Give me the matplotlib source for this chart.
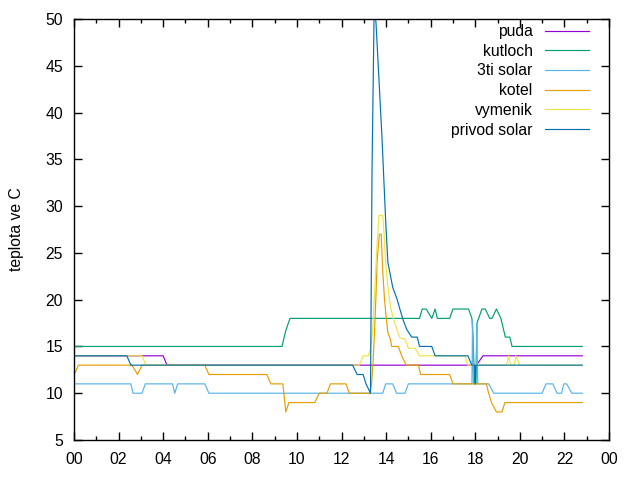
import matplotlib
matplotlib.use("Agg")
import matplotlib.pyplot as plt
from matplotlib.ticker import FixedLocator, MultipleLocator

# ---- data (hours of day, degrees C) ----
puda_t = [0.0, 4.0, 4.17, 18.05, 18.35, 22.8]
puda_v = [14, 14, 13, 13, 14, 14]

kutloch_t = [0.0, 9.33, 9.5, 9.69, 15.5, 15.62, 15.8, 16.05, 16.2, 16.3, 16.85, 17.0,
             17.7, 17.85, 17.9, 17.97, 18.03, 18.08, 18.15, 18.3, 18.45, 18.65, 18.75,
             18.95, 19.15, 19.25, 19.35, 19.55, 19.65, 22.8]
kutloch_v = [15, 15, 16.7, 18, 18, 19, 19, 18, 19, 18, 18, 19,
             19, 18, 16, 11, 11, 17.5, 18, 19, 19, 18, 18,
             19, 18, 17, 16, 16, 15, 15]

solar3_t = [0.0, 2.55, 2.65, 3.05, 3.2, 4.42, 4.52, 4.65, 5.87, 6.05, 13.85, 13.98,
            14.3, 14.47, 14.85, 15.0, 17.85, 17.88, 17.92, 18.03, 18.07, 18.11, 18.6,
            18.83, 21.0, 21.17, 21.48, 21.67, 21.87, 21.97, 22.1, 22.33, 22.8]
solar3_v = [11, 11, 10, 10, 11, 11, 10, 11, 11, 10, 10, 11,
            11, 10, 10, 11, 11, 17.8, 11, 11, 17.5, 11, 11,
            10, 10, 11, 11, 10, 10, 11, 11, 10, 10]

kotel_t = [0.05, 0.2, 2.6, 2.85, 3.05, 5.87, 6.05, 8.65, 8.83, 9.37, 9.5, 9.64, 10.8,
           11.0, 11.35, 11.5, 12.2, 12.35, 13.27, 13.35, 13.42, 13.48, 13.55, 13.6,
           13.7, 13.78, 13.85, 13.93, 14.0, 14.08, 14.2, 14.25, 14.55, 14.7, 14.9,
           15.45, 15.55, 16.85, 17.0, 18.5, 18.6, 18.73, 18.95, 19.2, 19.33, 22.8]
kotel_v = [12.2, 13, 13, 12, 13, 13, 12, 12, 11, 11, 8, 9, 9,
           10, 10, 11, 11, 10, 10, 11, 13.5, 16.4, 20.7, 24.2,
           27, 27, 23, 20, 18.2, 16.5, 15.7, 15, 15, 14, 13,
           13, 12, 12, 11, 11, 10, 9, 8, 8, 9, 9]

vymenik_t = [0.0, 3.05, 3.23, 12.8, 12.97, 13.2, 13.3, 13.4, 13.58, 13.68, 13.85,
             13.9, 13.98, 14.06, 14.12, 14.2, 14.35, 14.5, 14.63, 14.85, 15.0, 15.3,
             15.5, 17.53, 17.67, 19.4, 19.5, 19.58, 19.75, 19.82, 20.0, 22.8]
vymenik_v = [14, 14, 13, 13, 14, 14, 14.8, 16.7, 25.3, 29, 29,
             27.4, 24, 21.8, 20.7, 19.2, 17.8, 16.7, 15.9, 15.8, 14.8, 14.8,
             14, 14, 13, 13, 14, 13, 13, 14, 13, 13]

privod_t = [0.0, 2.37, 2.55, 12.5, 12.7, 12.97, 13.1, 13.3, 13.37, 13.47, 13.55,
            13.81, 13.99, 14.08, 14.3, 14.5, 14.63, 14.77, 14.93, 15.15, 15.4, 15.5,
            16.05, 16.2, 17.67, 17.85, 17.97, 18.0, 18.03, 22.8]
privod_v = [14, 14, 13, 13, 12, 12, 11, 10, 34, 52, 49.5,
            37.6, 28, 24, 21.3, 20, 18.9, 17.8, 16.8, 16, 16, 15,
            15, 14, 14, 13, 13, 11, 13, 13]

series = [
    ("puda", puda_t, puda_v, "#9400d3"),
    ("kutloch", kutloch_t, kutloch_v, "#009e73"),
    ("3ti solar", solar3_t, solar3_v, "#56b4e9"),
    ("kotel", kotel_t, kotel_v, "#e69f00"),
    ("vymenik", vymenik_t, vymenik_v, "#f0e442"),
    ("privod solar", privod_t, privod_v, "#0072b2"),
]

x_major = list(range(0, 25, 2))
x_labels = ["%02d" % (h % 24) for h in x_major]
y_ticks = list(range(5, 51, 5))

plt.rcParams['font.family'] = ['Liberation Sans', 'DejaVu Sans']
plt.rcParams['font.size'] = 11.3

fig = plt.figure(figsize=(6.4, 4.8), dpi=100)
ax = fig.add_axes([74/640, 1-440/480, (609-74)/640, (440-19)/480])

for name, t, v, c in series:
    ax.plot(t, v, color=c, lw=0.85, label=name)

ax.set_xlim(0, 24)
ax.set_ylim(5, 50)
ax.xaxis.set_major_locator(FixedLocator(x_major))
ax.set_xticklabels(x_labels)
ax.xaxis.set_minor_locator(MultipleLocator(1))
ax.yaxis.set_major_locator(FixedLocator(y_ticks))
ax.tick_params(which='major', direction='in', length=6, width=1, top=True, right=True, color='black')
ax.tick_params(which='minor', direction='in', length=3, width=1, top=True, right=True, color='black')
ax.tick_params(axis='y', pad=8)
ax.tick_params(axis='x', pad=9)
for s in ax.spines.values():
    s.set_linewidth(1)
ax.set_ylabel("teplota ve C", labelpad=15)

leg = ax.legend(loc='upper right', frameon=False, markerfirst=False,
                bbox_to_anchor=((589-74)/535, (440-24)/421),
                borderaxespad=0, borderpad=0,
                handlelength=2.8, handletextpad=0.8, labelspacing=0.3,
                fontsize=11.3)
for txt in leg.get_texts():
    txt.set_ha('right')

fig.savefig("out.png", dpi=100)
